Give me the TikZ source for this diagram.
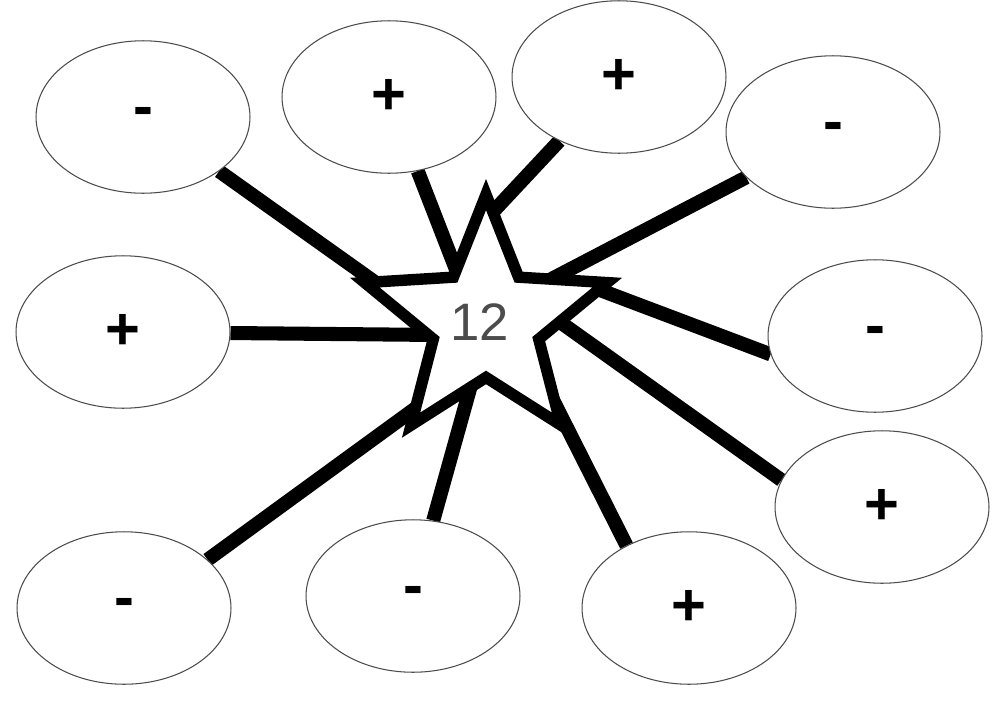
\documentclass[tikz,border=0pt]{standalone}
\usepackage{fontspec}
\setmainfont{Liberation Sans}
\usetikzlibrary{shapes.geometric,backgrounds}
\begin{document}
\begin{tikzpicture}[x=0.02cm,y=-0.02cm,
  oval/.style={ellipse,draw=black!70,line width=0.6pt,fill=white,minimum width=4.28cm,minimum height=3.05cm,font=\fontsize{34}{34}\selectfont\bfseries},
  spoke/.style={line width=8pt,black},
  bigstar/.style={star,star points=5,star point ratio=2.3,minimum size=5.1cm,draw=black,line width=6.5pt,fill=white,inner sep=0pt}]
\useasboundingbox (0,0) rectangle (1000,707);
\node[oval] (e1) at (143,117) {-};
\node[oval] (e2) at (389,97) {+};
\node[oval] (e3) at (619,77) {+};
\node[oval] (e4) at (833,132) {-};
\node[oval] (e5) at (123,332) {+};
\node[oval] (e6) at (875,336) {-};
\node[oval] (e7) at (882,507) {+};
\node[oval] (e8) at (124,608) {-};
\node[oval] (e9) at (413,596) {-};
\node[oval] (e10) at (689,608) {+};
\node[bigstar] (s) at (486,322) {};
\node[font=\fontsize{30}{30}\selectfont,text=black!70] (t) at (480,322) {12};
\begin{scope}[on background layer]
\coordinate (c1) at (400,300);
\coordinate (c2) at (462,285);
\coordinate (c3) at (490,215);
\coordinate (c4) at (540,285);
\coordinate (c5) at (440,335);
\coordinate (c6) at (600,290);
\coordinate (c7) at (560,322);
\coordinate (c8) at (420,405);
\coordinate (c9) at (478,360);
\coordinate (c10) at (553,400);
\draw[spoke] (e1) -- (c1);
\draw[spoke] (e2) -- (c2);
\draw[spoke] (e3) -- (c3);
\draw[spoke] (e4) -- (c4);
\draw[spoke] (e5) -- (c5);
\draw[spoke] (e6.190) -- (c6);
\draw[spoke] (e7.165) -- (c7);
\draw[spoke] (e8.30) -- (c8);
\draw[spoke] (e9.75) -- (c9);
\draw[spoke] (e10.135) -- (c10);
\end{scope}
\end{tikzpicture}
\end{document}
